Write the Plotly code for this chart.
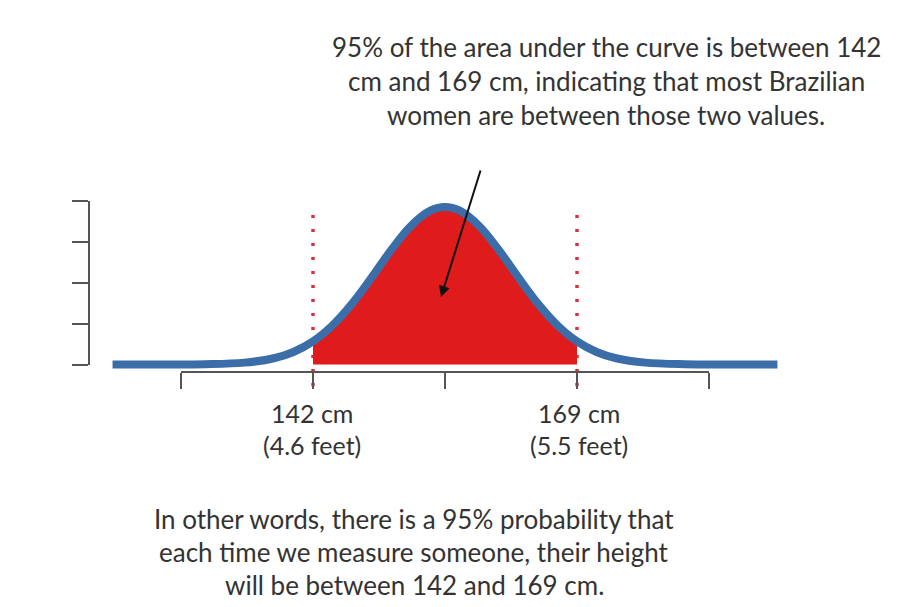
import plotly.graph_objects as go

# ---- data ----
height_cm = [121.5, 124, 128.5, 131, 135, 138, 140, 142, 144, 146, 148, 150, 152, 154,
             155.5, 157, 159, 161, 163, 165, 167, 169, 171, 173, 176, 180, 182.5, 186, 189.5]
density = [0.0, 0.00001, 0.00003, 0.0001, 0.00069, 0.0023, 0.00461, 0.00849, 0.01438,
           0.02238, 0.03201, 0.04211, 0.05089, 0.05654, 0.0579, 0.05654, 0.05089, 0.04211,
           0.03201, 0.02238, 0.01438, 0.00849, 0.00461, 0.0023, 0.00069, 0.0001, 0.00003,
           0.00001, 0.0]
lower_cm, upper_cm = 142, 169
x_ticks = [128.5, 142, 155.5, 169, 182.5]
y_ticks = [0, 0.015, 0.03, 0.045, 0.06]
lower_label = ["142 cm", "(4.6 feet)"]
upper_label = ["169 cm", "(5.5 feet)"]
top_text = ["95% of the area under the curve is between 142",
            "cm and 169 cm, indicating that most Brazilian",
            "women are between those two values."]
bottom_text = ["In other words, there is a 95% probability that",
               "each time we measure someone, their height",
               "will be between 142 and 169 cm."]

# ---- layout geometry (pixels) ----
W, H = 902, 607
PX_LO, PX_HI = 313, 577          # pixel x of lower/upper bound
XS = (PX_HI - PX_LO) / (upper_cm - lower_cm)   # px per cm
Y0_PX = 364.5                     # pixel y of density 0
YS = 2720                         # px per density unit

def px_to_x(px):
    return lower_cm + (px - PX_LO) / XS

def py_to_y(py):
    return (Y0_PX - py) / YS

def xpaper(px):
    return px / W

def ypaper(py):
    return 1 - py / H

FONT = "Lato"
TXT = "#333333"
BLUE = "#3b6ea8"
RED = "#e01b1b"

fig = go.Figure()

# red area between bounds
band_x = [x for x in height_cm if lower_cm <= x <= upper_cm]
band_y = [d for x, d in zip(height_cm, density) if lower_cm <= x <= upper_cm]
fig.add_trace(go.Scatter(x=band_x, y=band_y, mode="lines", fill="tozeroy",
                         fillcolor=RED, line=dict(width=0, color=RED, shape="spline"),
                         hoverinfo="skip", showlegend=False))
# the curve
fig.add_trace(go.Scatter(x=height_cm, y=density, mode="lines",
                         line=dict(width=8, color=BLUE, shape="spline"),
                         hoverinfo="skip", showlegend=False))
# invisible trace to anchor the drawn axes
fig.add_trace(go.Scatter(x=[x_ticks[0], x_ticks[-1]], y=[y_ticks[0], y_ticks[-1]],
                         xaxis="x2", yaxis="y2", mode="markers",
                         marker=dict(opacity=0), hoverinfo="skip", showlegend=False))

# dotted bound lines
for b in (lower_cm, upper_cm):
    fig.add_shape(type="line", xref="x", yref="paper", x0=b, x1=b,
                  y0=ypaper(215), y1=ypaper(389), layer="below",
                  line=dict(color="#d9303f", width=3.5, dash="3px,11px"))

annotations = []
# arrow
annotations.append(dict(x=px_to_x(441), y=py_to_y(297), xref="x", yref="y",
                        ax=40, ay=-128, showarrow=True, arrowhead=2, arrowsize=1.1,
                        arrowwidth=2, arrowcolor="#111111", text=""))

def line_text(text, cx, cy, size):
    annotations.append(dict(x=xpaper(cx), y=ypaper(cy), xref="paper", yref="paper",
                            text=text, showarrow=False, xanchor="center", yanchor="middle",
                            font=dict(family=FONT, size=size, color=TXT)))

for i, t in enumerate(top_text):
    line_text(t, 606, 47 + i * 34, 26)
for i, t in enumerate(bottom_text):
    line_text(t, 414, 519 + i * 33, 26)
for i, t in enumerate(lower_label):
    line_text(t, 312, 413 + i * 32, 25)
for i, t in enumerate(upper_label):
    line_text(t, 579, 413 + i * 32, 25)

axis_col = "#555555"
clear = "rgba(0,0,0,0)"
fig.update_layout(
    width=W, height=H, margin=dict(l=0, r=0, t=0, b=0),
    paper_bgcolor="white", plot_bgcolor=clear,
    xaxis=dict(domain=[0, 1], range=[px_to_x(0), px_to_x(W)], visible=False),
    yaxis=dict(domain=[0, 1], range=[py_to_y(H), py_to_y(0)], visible=False),
    xaxis2=dict(domain=[xpaper(PX_LO + (x_ticks[0] - lower_cm) * XS),
                        xpaper(PX_LO + (x_ticks[-1] - lower_cm) * XS)],
                range=[x_ticks[0], x_ticks[-1]], anchor="free", position=ypaper(372),
                showline=True, linecolor=axis_col, linewidth=1.5,
                ticks="outside", ticklen=16, tickwidth=1.5, tickcolor=axis_col,
                tickvals=x_ticks, showticklabels=False, showgrid=False, zeroline=False),
    yaxis2=dict(domain=[ypaper(Y0_PX), ypaper(Y0_PX - y_ticks[-1] * YS)],
                range=[y_ticks[0], y_ticks[-1]], anchor="free", position=xpaper(89),
                showline=True, linecolor=axis_col, linewidth=1.5,
                ticks="outside", ticklen=16, tickwidth=1.5, tickcolor=axis_col,
                tickvals=y_ticks, showticklabels=False, showgrid=False, zeroline=False),
    annotations=annotations,
)

fig.write_html("out.html")
